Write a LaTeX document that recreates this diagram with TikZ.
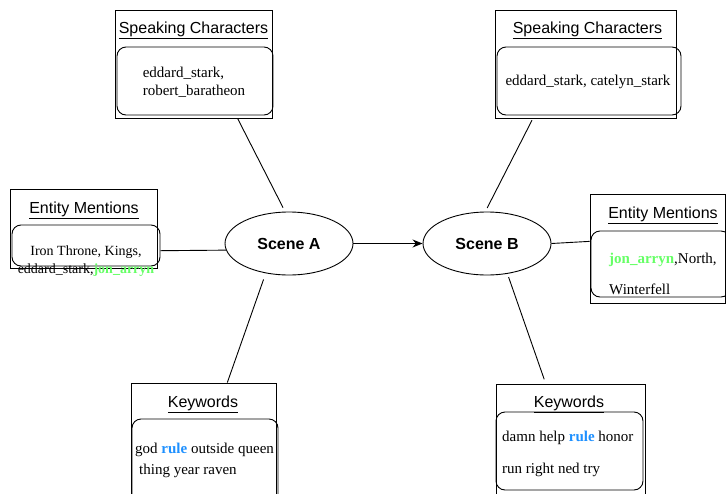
\documentclass[tikz,border=0pt]{standalone}
\usepackage{fontspec}
\setmainfont{Liberation Sans}
\newfontfamily\kwserif{Liberation Serif}
\usetikzlibrary{arrows.meta,shapes.geometric}
\definecolor{mentgreen}{RGB}{102,255,102}
\definecolor{ruleblue}{RGB}{30,144,255}

\begin{document}
\begin{tikzpicture}[
    x=1pt, y=-1pt,
    >={Stealth[length=10pt,width=8pt]},
    outerbox/.style = {draw, rectangle, inner sep=0pt, line width=0.9pt},
    innerbox/.style = {draw, rectangle, rounded corners=9pt, inner sep=0pt, line width=0.9pt},
    scene/.style    = {draw, ellipse, inner sep=0pt, line width=0.9pt,
                       minimum width=128pt, minimum height=63pt,
                       font=\fontsize{16}{19}\selectfont\bfseries},
    boxtitle/.style = {inner sep=0pt, font=\fontsize{16}{19}\selectfont},
    link/.style     = {line width=0.9pt},
  ]
	\useasboundingbox (0,0) rectangle (726,493);
	\clip (0,0) rectangle (726,493);

	% Szenen
	\node[scene] (sa) at (289,243.5) {Scene A};
	\node[scene] (sb) at (487,243.5) {Scene B};
	\draw[link,->] (sa) -- (sb);

	% Speaking Characters (A)
	\node[outerbox, minimum width=157pt, minimum height=108pt] (spkA) at (193.5,64) {};
	\node[innerbox, minimum width=156pt, minimum height=68pt] (spkAin) at (195,81) {};
	\node[boxtitle] (spkAt) at (193.5,30.5) {\underline{Speaking Characters}};
	\node[inner sep=0pt, align=left, font=\kwserif\fontsize{15}{18}\selectfont] (spkAx) at (194,82)
		{eddard\_stark,\\robert\_baratheon};

	% Speaking Characters (B)
	\node[outerbox, minimum width=181pt, minimum height=108pt] (spkB) at (585.5,64) {};
	\node[innerbox, minimum width=184pt, minimum height=68pt] (spkBin) at (589,81) {};
	\node[boxtitle] (spkBt) at (587.5,30.5) {\underline{Speaking Characters}};
	\node[inner sep=0pt, font=\kwserif\fontsize{15}{18}\selectfont] (spkBx) at (588,82)
		{eddard\_stark, catelyn\_stark};

	% Entity Mentions (A)
	\node[outerbox, minimum width=147pt, minimum height=79pt] (entA) at (83.5,228.5) {};
	\node[innerbox, minimum width=148pt, minimum height=41pt] (entAin) at (86,245.5) {};
	\node[boxtitle] (entAt) at (84,210.5) {\underline{Entity Mentions}};
	\node[inner sep=0pt, align=center, font=\kwserif\fontsize{14}{18}\selectfont] (entAx) at (86,261.5)
		{Iron Throne, Kings,\\eddard\_stark,\textbf{\textcolor{mentgreen}{jon\_arryn}}};

	% Entity Mentions (B)
	\node[outerbox, minimum width=135pt, minimum height=109pt] (entB) at (657.5,248.5) {};
	\node[innerbox, minimum width=139pt, minimum height=66pt] (entBin) at (660.5,264) {};
	\node[boxtitle] (entBt) at (663,215.5) {\underline{Entity Mentions}};
	\node[inner sep=0pt, anchor=west, align=left, font=\kwserif\fontsize{15}{31}\selectfont] (entBx) at (609,274)
		{\textbf{\textcolor{mentgreen}{jon\_arryn}},North,\\Winterfell};

	% Keywords (A)
	\node[outerbox, minimum width=145pt, minimum height=117pt] (kwA) at (203.5,441.5) {};
	\node[innerbox, minimum width=146pt, minimum height=86pt] (kwAin) at (205,462) {};
	\node[boxtitle] (kwAt) at (203,404) {\underline{Keywords}};
	\node[inner sep=0pt, anchor=west, align=left, font=\kwserif\fontsize{15}{21}\selectfont] (kwAx) at (135,460.5)
		{god \textbf{\textcolor{ruleblue}{rule}} outside queen\\\hspace*{4pt}thing year raven};

	% Keywords (B)
	\node[outerbox, minimum width=149pt, minimum height=116pt] (kwB) at (570.5,442) {};
	\node[innerbox, minimum width=147pt, minimum height=78pt] (kwBin) at (569.5,451) {};
	\node[boxtitle] (kwBt) at (569,404) {\underline{Keywords}};
	\node[inner sep=0pt, anchor=west, align=left, font=\kwserif\fontsize{15}{32}\selectfont] (kwBx) at (502,453.5)
		{damn help \textbf{\textcolor{ruleblue}{rule}} honor\\run right ned try};

	% Verbindungen
	\draw[link, shorten <=4.5pt] (sa.97) -- (spkA.-51);
	\draw[link, shorten <=4pt, shorten >=2pt] (sb.93) -- (spkB.-134);
	\draw[link] (sa.186) -- (entAin.-4);
	\draw[link] (sb.east) -- (entB.174);
	\draw[link, shorten <=6.5pt] (sa.232) -- (kwA.68);
	\draw[link, shorten <=3.5pt, shorten >=4.5pt] (sb.-56) -- (kwB.113);

\end{tikzpicture}
\end{document}
